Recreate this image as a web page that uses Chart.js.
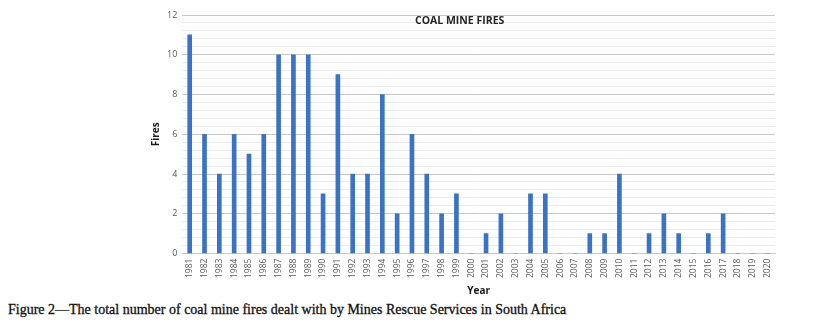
<!DOCTYPE html>
<html>
<head>
<meta charset="utf-8">
<script src="https://cdn.jsdelivr.net/npm/chart.js@4/dist/chart.umd.min.js"></script>
<style>
  body { margin: 0; background: #fff; }
  #wrap { position: relative; width: 823px; height: 297px; }
  #caption {
    position: absolute; left: 8px; top: 302px;
    font-family: "Liberation Serif", "DejaVu Serif", serif;
    font-size: 14px; color: #111; white-space: nowrap;
    -webkit-text-stroke: 0.3px #111;
  }
</style>
</head>
<body>
<div id="wrap"><canvas id="fireChart"></canvas></div>
<div id="caption">Figure 2—The total number of coal mine fires dealt with by Mines Rescue Services in South Africa</div>
<script>
// coal mine fires per year
var years = ['1981', '1982', '1983', '1984', '1985', '1986', '1987', '1988', '1989', '1990',
  '1991', '1992', '1993', '1994', '1995', '1996', '1997', '1998', '1999', '2000',
  '2001', '2002', '2003', '2004', '2005', '2006', '2007', '2008', '2009', '2010',
  '2011', '2012', '2013', '2014', '2015', '2016', '2017', '2018', '2019', '2020'];
var fires = [11, 6, 4, 6, 5, 6, 10, 10, 10, 3,
  9, 4, 4, 8, 2, 6, 4, 2, 3, 0,
  1, 2, 0, 3, 3, 0, 0, 1, 1, 4,
  0, 1, 2, 1, 0, 1, 2, 0, 0, 0];
var chartTitle = 'COAL MINE FIRES';

function isMajor(v) {
  return Math.abs(v / 2 - Math.round(v / 2)) < 1e-6;
}

// title sits inside the plot area like the excel original
var innerTitle = {
  id: 'innerTitle',
  afterDraw: function (chart) {
    var ctx = chart.ctx;
    var area = chart.chartArea;
    ctx.save();
    ctx.font = 'bold 10.5px "Open Sans", sans-serif';
    ctx.fillStyle = '#262626';
    ctx.textAlign = 'center';
    ctx.textBaseline = 'middle';
    ctx.fillText(chartTitle, (area.left + area.right) / 2 - 19, area.top + 6);
    ctx.restore();
  }
};

var ctx = document.getElementById('fireChart').getContext('2d');
var fireChart = new Chart(ctx, {
  type: 'bar',
  data: {
    labels: years,
    datasets: [{
      label: 'Fires',
      data: fires,
      backgroundColor: '#3A72C4',
      barThickness: 4
    }]
  },
  plugins: [innerTitle],
  options: {
    responsive: true,
    maintainAspectRatio: false,
    animation: false,
    layout: {
      padding: { left: 150, right: 48, top: 15, bottom: 0 }
    },
    plugins: {
      legend: { display: false },
      tooltip: { enabled: false }
    },
    scales: {
      y: {
        min: 0,
        max: 12,
        ticks: {
          stepSize: 0.4,
          autoSkip: false,
          color: '#595959',
          font: { family: '"Open Sans", sans-serif', size: 9 },
          padding: 5,
          callback: function (v) { return isMajor(v) ? Math.round(v) : ''; }
        },
        grid: {
          drawTicks: false,
          color: function (c) { return isMajor(c.tick.value) ? '#C8C8C8' : '#EBEBEB'; }
        },
        border: { display: false },
        title: {
          display: true,
          text: 'Fires',
          color: '#1a1a1a',
          font: { family: '"Open Sans", sans-serif', size: 10, weight: 'bold' },
          padding: { top: 0, bottom: 0 }
        }
      },
      x: {
        grid: { display: false, drawTicks: false },
        border: { display: true, color: '#C8C8C8' },
        ticks: {
          minRotation: 90,
          maxRotation: 90,
          autoSkip: false,
          color: '#595959',
          font: { family: '"Open Sans", sans-serif', size: 8.5 },
          padding: 5
        },
        title: {
          display: true,
          text: 'Year',
          color: '#1a1a1a',
          font: { family: '"Open Sans", sans-serif', size: 10, weight: 'bold' },
          padding: { top: 2, bottom: 0 }
        }
      }
    }
  }
});
</script>
</body>
</html>
